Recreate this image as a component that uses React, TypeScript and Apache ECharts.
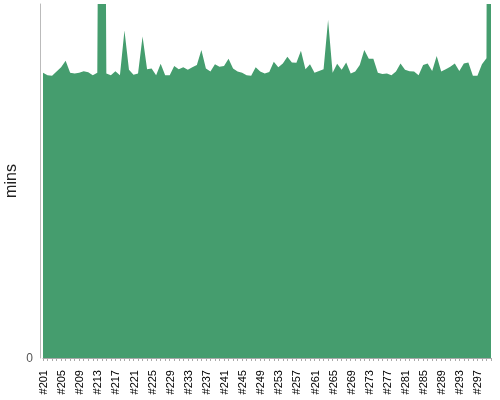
import * as echarts from 'echarts';
import { useEffect, useRef } from 'react';

// build numbers #201 .. #300
const builds = [
  '#201', '#202', '#203', '#204', '#205', '#206', '#207', '#208', '#209', '#210',
  '#211', '#212', '#213', '#214', '#215', '#216', '#217', '#218', '#219', '#220',
  '#221', '#222', '#223', '#224', '#225', '#226', '#227', '#228', '#229', '#230',
  '#231', '#232', '#233', '#234', '#235', '#236', '#237', '#238', '#239', '#240',
  '#241', '#242', '#243', '#244', '#245', '#246', '#247', '#248', '#249', '#250',
  '#251', '#252', '#253', '#254', '#255', '#256', '#257', '#258', '#259', '#260',
  '#261', '#262', '#263', '#264', '#265', '#266', '#267', '#268', '#269', '#270',
  '#271', '#272', '#273', '#274', '#275', '#276', '#277', '#278', '#279', '#280',
  '#281', '#282', '#283', '#284', '#285', '#286', '#287', '#288', '#289', '#290',
  '#291', '#292', '#293', '#294', '#295', '#296', '#297', '#298', '#299', '#300',
];

const mins = [
  80.6, 79.9, 79.7, 80.9, 82.1, 84.0, 80.6, 80.4, 80.6, 81.0,
  80.7, 79.9, 80.6, 320, 80.4, 79.9, 81.0, 79.9, 92.5, 81.4,
  80.0, 80.4, 90.8, 81.6, 81.8, 79.9, 83.1, 79.9, 79.9, 82.5,
  81.6, 82.1, 81.4, 82.1, 82.8, 87.0, 81.8, 80.9, 83.0, 82.3,
  82.5, 84.5, 81.8, 80.9, 80.6, 79.9, 79.7, 82.1, 80.9, 80.4,
  80.8, 83.7, 82.1, 83.2, 85.1, 83.5, 83.4, 86.8, 81.6, 83.0,
  80.6, 81.1, 81.6, 95.5, 80.6, 83.1, 81.4, 83.5, 80.4, 80.9,
  82.8, 87.0, 84.5, 84.5, 80.6, 80.2, 80.4, 79.9, 80.9, 83.2,
  81.4, 81.0, 80.9, 79.9, 82.8, 83.2, 81.1, 85.3, 80.9, 81.6,
  82.3, 83.2, 81.1, 83.2, 83.5, 79.7, 79.7, 83.0, 84.7, 600,
];

const yMax = 100;

export default function App() {
  const container = useRef<HTMLDivElement | null>(null);

  useEffect(() => {
    if (!container.current) return;
    const chart = echarts.init(container.current, null, { renderer: 'svg' });
    chart.setOption({
      animation: false,
      textStyle: { fontFamily: 'Liberation Sans, Arial, sans-serif' },
      grid: { left: 43, right: 9, top: 4, bottom: 42, outerBoundsMode: 'none' },
      xAxis: {
        type: 'category',
        data: builds,
        boundaryGap: false,
        offset: 4,
        axisLine: { lineStyle: { color: '#aaa' } },
        axisTick: { interval: 0, length: 3, lineStyle: { color: '#aaa' } },
        axisLabel: {
          interval: 3,
          rotate: 90,
          fontSize: 11,
          color: '#000',
          margin: 8,
        },
        splitLine: { show: false },
      },
      yAxis: {
        type: 'value',
        min: 0,
        max: yMax,
        interval: yMax,
        offset: 3,
        name: 'mins',
        nameLocation: 'middle',
        nameGap: 22,
        nameMoveOverlap: false,
        nameTextStyle: { fontSize: 16, color: '#222' },
        axisLine: { show: true, lineStyle: { color: '#bbb' } },
        axisTick: { show: false },
        splitLine: { show: false },
        axisLabel: {
          color: '#555',
          fontSize: 12,
          margin: 7,
          formatter: (v: number) => (v === 0 ? '0' : ''),
        },
      },
      series: [
        {
          type: 'line',
          data: mins,
          symbol: 'none',
          lineStyle: { width: 0 },
          areaStyle: { color: '#459d6e', opacity: 1 },
          clip: true,
        },
      ],
    } as echarts.EChartsOption);
    return () => chart.dispose();
  }, []);

  return (
    <div
      ref={container}
      style={{ position: 'fixed', left: 0, top: 0, width: 500, height: 400 }}
    />
  );
}
